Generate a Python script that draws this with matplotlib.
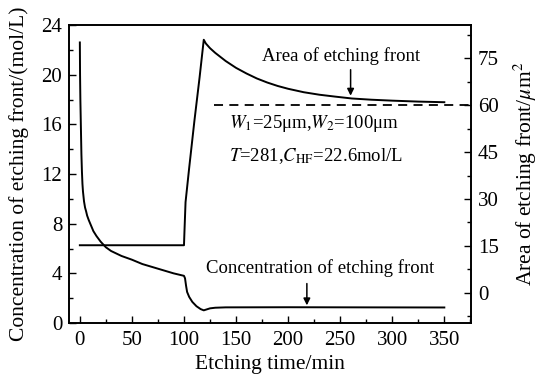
import numpy as np
import matplotlib.pyplot as plt
from matplotlib.ticker import MultipleLocator

plt.rcParams['font.family'] = ['Liberation Serif', 'DejaVu Serif']
plt.rcParams['mathtext.fontset'] = 'stix'

# concentration of etching front (left axis, mol/L)
t_conc = [0, 0.2, 0.5, 1, 1.5, 2, 2.5, 3, 4, 5, 6, 7, 8.5, 10, 13, 16, 20, 25, 30, 40, 50, 60, 70, 80, 90, 100,
          101, 102, 103, 105, 108, 112, 116, 119, 122, 125, 130, 140, 200, 270, 350]
conc = [22.6, 20.0, 18.0, 15.8, 13.6, 12.2, 11.2, 10.6, 9.8, 9.3, 9.0, 8.65, 8.3, 8.0, 7.4, 7.0, 6.55, 6.1, 5.8, 5.4,
        5.1, 4.75, 4.5, 4.25, 4.0, 3.8,
        3.6, 3.0, 2.5, 2.1, 1.7, 1.35, 1.12, 1.02, 1.1, 1.18, 1.23, 1.26, 1.27, 1.26, 1.25]

# area of etching front (right axis, um^2)
t_area = [0, 100, 100.5, 101.5, 105, 110, 115, 119, 121, 125, 130, 140, 150, 160, 170, 180, 190, 200,
          215, 230, 245, 261, 280, 300, 325, 350]
area = [15.2, 15.2, 20, 29, 40, 55, 69, 81, 79.8, 78.3, 76.8, 74.2, 72, 70.2, 68.6, 67.3, 66.2, 65.3,
        64.2, 63.4, 62.8, 62.2, 61.8, 61.5, 61.2, 61.0]

ref_area = 60

fig = plt.figure(figsize=(5.4, 3.8), dpi=100)
ax = fig.add_axes([0.128, 0.15, 0.744, 0.784])
ax2 = ax.twinx()

ax.plot(t_conc, conc, color='black', lw=1.4)
ax2.plot(t_area, area, color='black', lw=1.4)
ax2.plot([129, 375], [ref_area, ref_area], color='black', lw=1.3, linestyle=(0, (5, 3.5)))

ax.set_xlim(-10.3, 375.5)
ax.set_ylim(0, 24)
ax2.set_ylim(-9.7, 85.7)

ax.xaxis.set_major_locator(MultipleLocator(50))
ax.xaxis.set_minor_locator(MultipleLocator(25))
ax.yaxis.set_major_locator(MultipleLocator(4))
ax.yaxis.set_minor_locator(MultipleLocator(2))
ax2.yaxis.set_major_locator(MultipleLocator(15))
ax2.yaxis.set_minor_locator(MultipleLocator(7.5))

for a in (ax, ax2):
    a.tick_params(which='major', direction='in', length=5, width=1, labelsize=15, pad=5)
    a.tick_params(which='minor', direction='in', length=3, width=1)
    for s in a.spines.values():
        s.set_linewidth(1.2)
ax.tick_params(axis='x', which='major', pad=6)

ax.set_xlabel('Etching time/min', fontsize=15.5, labelpad=3)
ax.set_ylabel('Concentration of etching front/(mol/L)', fontsize=15.5, labelpad=9)
ax2.set_ylabel('Area of etching front/$\\mu$m$^2$', fontsize=15.5, labelpad=9)

# annotations
ax2.text(251, 75.8, 'Area of etching front', fontsize=13.5, ha='center', va='center')
ax2.annotate('', xy=(260, 62.2), xytext=(260, 72.3),
             arrowprops=dict(arrowstyle='-|>', color='black', lw=1.1, mutation_scale=10))
ax2.text(143, 54.2, '$W_1$=25μm,$W_2$=100μm', fontsize=13.5, ha='left', va='center')
ax2.text(143, 43.9, '$T$=281,$C_{\\rm HF}$=22.6mol/L', fontsize=13.5, ha='left', va='center')

ax.text(231, 4.4, 'Concentration of etching front', fontsize=13.5, ha='center', va='center')
ax.annotate('', xy=(218, 1.2), xytext=(218, 3.4),
            arrowprops=dict(arrowstyle='-|>', color='black', lw=1.1, mutation_scale=10))

fig.savefig('out.png', dpi=100)
